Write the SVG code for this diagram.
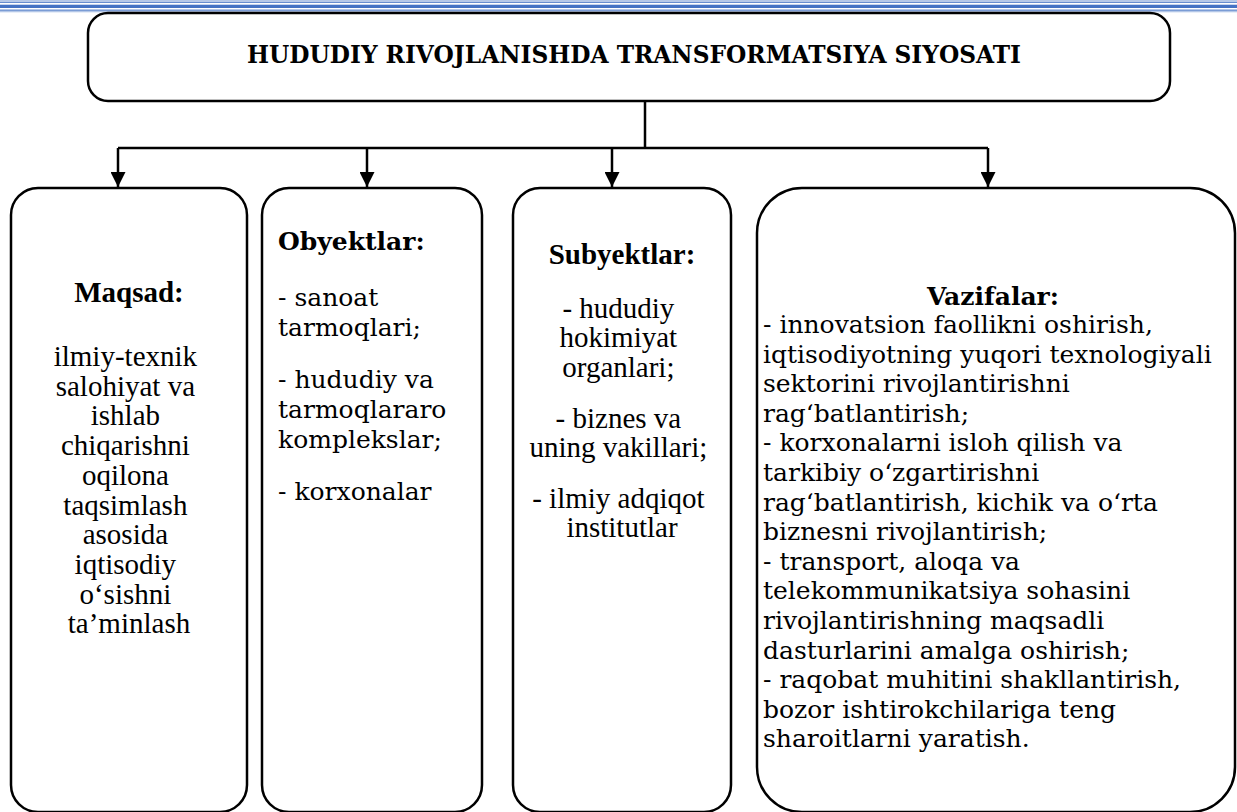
<svg xmlns="http://www.w3.org/2000/svg" width="1237" height="812" viewBox="0 0 1237 812">
<style>
.box{fill:#fff;stroke:#000;stroke-width:2.5}
.conn{fill:none;stroke:#000;stroke-width:2.5}
.tnr{font-family:"Liberation Serif","Times New Roman",serif;font-size:29px;fill:#000}
.cam{font-family:"DejaVu Serif",serif;font-size:25px;fill:#000}
.b{font-weight:bold}
.mid{text-anchor:middle}
</style>
<defs>
<marker id="ah" viewBox="0 0 15 15" refX="15" refY="7.5" markerWidth="15" markerHeight="15" markerUnits="userSpaceOnUse" orient="auto">
<path d="M0,0 L15,7.5 L0,15 z" fill="#000"/>
</marker>
</defs>
<g id="border">
<rect x="0" y="0" width="1237" height="1.3" fill="#b4c7e7"/>
<rect x="0" y="1.7" width="1237" height="1.1" fill="#4472c4"/>
<rect x="0" y="4.7" width="1237" height="3.3" fill="#4472c4"/>
<rect x="0" y="9.6" width="1237" height="1.1" fill="#4472c4"/>
<rect x="0" y="11" width="1237" height="1.3" fill="#b4c7e7"/>
</g>
<g id="connectors">
<path class="conn" d="M645,101 V148 M118,148 H988"/>
<path class="conn" d="M118,148 V187" marker-end="url(#ah)"/>
<path class="conn" d="M367,148 V187" marker-end="url(#ah)"/>
<path class="conn" d="M612,148 V187" marker-end="url(#ah)"/>
<path class="conn" d="M988,148 V187" marker-end="url(#ah)"/>
</g>
<g id="title">
<rect class="box" x="88" y="13" width="1082" height="88" rx="20"/>
<text class="cam b mid" x="634" y="63" font-size="26.5" textLength="774" lengthAdjust="spacingAndGlyphs">HUDUDIY RIVOJLANISHDA TRANSFORMATSIYA SIYOSATI</text>
</g>
<g id="maqsad">
<rect class="box" x="11" y="188" width="236" height="624" rx="27"/>
<text class="tnr b mid" x="129" y="302">Maqsad:</text>
<text class="tnr mid" x="129">
<tspan x="129" y="366">ilmiy-texnik</tspan>
<tspan x="129" y="395.7">salohiyat va</tspan>
<tspan x="129" y="425.4">ishlab</tspan>
<tspan x="129" y="455.1">chiqarishni</tspan>
<tspan x="129" y="484.8">oqilona</tspan>
<tspan x="129" y="514.5">taqsimlash</tspan>
<tspan x="129" y="544.2">asosida</tspan>
<tspan x="129" y="573.9">iqtisodiy</tspan>
<tspan x="129" y="603.6">o‘sishni</tspan>
<tspan x="129" y="633.3">ta’minlash</tspan>
</text>
</g>
<g id="obyektlar">
<rect class="box" x="262" y="188" width="220" height="624" rx="27"/>
<text class="cam b" x="278" y="250">Obyektlar:</text>
<text class="cam">
<tspan x="278" y="306">- sanoat</tspan>
<tspan x="278" y="336">tarmoqlari;</tspan>
<tspan x="278" y="388">- hududiy va</tspan>
<tspan x="278" y="418">tarmoqlararo</tspan>
<tspan x="278" y="448">komplekslar;</tspan>
<tspan x="278" y="500">- korxonalar</tspan>
</text>
</g>
<g id="subyektlar">
<rect class="box" x="513" y="188" width="218" height="624" rx="27"/>
<text class="tnr b mid" x="622" y="264" font-size="31">Subyektlar:</text>
<text class="tnr mid">
<tspan x="622" y="318">- hududiy</tspan>
<tspan x="622" y="347">hokimiyat</tspan>
<tspan x="622" y="377">organlari;</tspan>
<tspan x="622" y="428">- biznes va</tspan>
<tspan x="622" y="457">uning vakillari;</tspan>
<tspan x="622" y="508">- ilmiy adqiqot</tspan>
<tspan x="622" y="537">institutlar</tspan>
</text>
</g>
<g id="vazifalar">
<rect class="box" x="757" y="188" width="478" height="624" rx="45"/>
<text class="cam b mid" x="993" y="305" font-size="26">Vazifalar:</text>
<text class="cam" font-size="25.9">
<tspan x="763" y="333">- innovatsion faollikni oshirish,</tspan>
<tspan x="763" y="362.6">iqtisodiyotning yuqori texnologiyali</tspan>
<tspan x="763" y="392.2">sektorini rivojlantirishni</tspan>
<tspan x="763" y="421.8">rag‘batlantirish;</tspan>
<tspan x="763" y="451.4">- korxonalarni isloh qilish va</tspan>
<tspan x="763" y="481">tarkibiy o‘zgartirishni</tspan>
<tspan x="763" y="510.6">rag‘batlantirish, kichik va o‘rta</tspan>
<tspan x="763" y="540.2">biznesni rivojlantirish;</tspan>
<tspan x="763" y="569.8">- transport, aloqa va</tspan>
<tspan x="763" y="599.4">telekommunikatsiya sohasini</tspan>
<tspan x="763" y="629">rivojlantirishning maqsadli</tspan>
<tspan x="763" y="658.6">dasturlarini amalga oshirish;</tspan>
<tspan x="763" y="688.2">- raqobat muhitini shakllantirish,</tspan>
<tspan x="763" y="717.8">bozor ishtirokchilariga teng</tspan>
<tspan x="763" y="747.4">sharoitlarni yaratish.</tspan>
</text>
</g>
</svg>
